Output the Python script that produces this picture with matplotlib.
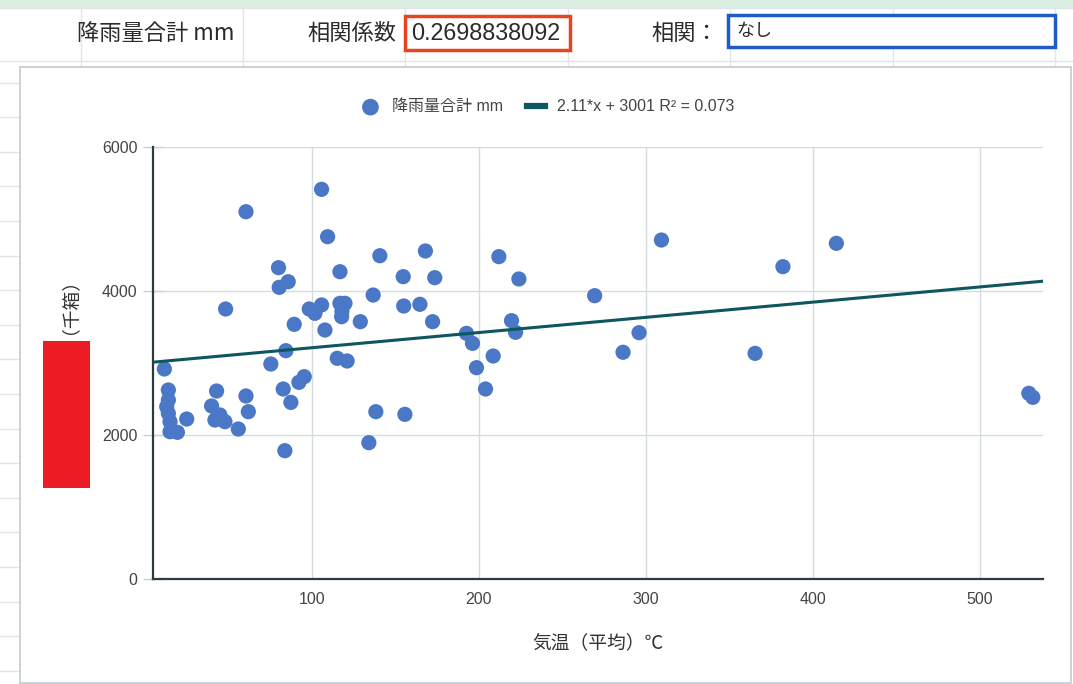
import matplotlib
matplotlib.use("Agg")
import matplotlib.pyplot as plt
from matplotlib.patches import Rectangle
from matplotlib.lines import Line2D

plt.rcParams['font.family'] = ['Noto Sans CJK JP', 'DejaVu Sans']

# 月ごとの気温（平均）と降雨量合計
temp_avg = [105.8, 60.5, 109.4, 80.0, 116.8, 85.8, 80.4, 48.3, 98.4, 105.8,
            101.8, 116.8, 119.8, 117.8, 129.0, 89.4, 107.8, 84.4, 115.2, 121.1,
            75.4, 11.6, 95.4, 92.2, 14.0, 42.9, 82.8, 60.5, 14.0, 87.4,
            13.0, 39.9, 61.9, 14.0, 44.9, 25.0, 41.9, 47.9, 15.0, 55.9,
            15.0, 19.4, 83.8, 140.7, 168.0, 154.7, 173.6, 212.0, 224.0, 309.4,
            136.7, 269.4, 155.0, 164.7, 172.3, 192.6, 196.2, 219.6, 222.0, 296.0,
            286.4, 208.6, 198.6, 204.0, 138.3, 155.7, 134.1, 382.2, 414.2, 365.5,
            529.5, 531.9, 118.0]
rain_total = [5412, 5101, 4754, 4324, 4268, 4129, 4051, 3750, 3750, 3806,
              3690, 3829, 3829, 3643, 3574, 3537, 3458, 3171, 3065, 3028,
              2986, 2917, 2810, 2731, 2625, 2611, 2639, 2542, 2486, 2453,
              2393, 2403, 2324, 2301, 2278, 2222, 2208, 2185, 2185, 2083,
              2046, 2037, 1782, 4490, 4556, 4199, 4185, 4477, 4167, 4708,
              3944, 3935, 3792, 3815, 3574, 3412, 3273, 3588, 3426, 3421,
              3149, 3097, 2935, 2639, 2324, 2287, 1893, 4338, 4662, 3134,
              2579, 2523, 3720]

# 近似直線
slope = 2.11
intercept = 3001
r2 = 0.073
corr_coef = "0.2698838092"
corr_result = "なし"

x_ticks = [100, 200, 300, 400, 500]
y_ticks = [0, 2000, 4000, 6000]

W, H = 1073, 684
fig = plt.figure(figsize=(W / 100, H / 100), dpi=100)
fig.patch.set_facecolor('white')

latin = ['Liberation Sans', 'Noto Sans CJK JP', 'DejaVu Sans']


def fx(x):
    return x / W


def fy(y):
    return 1 - y / H


def hline(y, x0, x1, color='#dfe5ea', lw=1.0):
    fig.add_artist(Line2D([fx(x0), fx(x1)], [fy(y), fy(y)], color=color, lw=lw,
                          transform=fig.transFigure, zorder=1))


def vline(x, y0, y1, color='#dfe5ea', lw=1.0):
    fig.add_artist(Line2D([fx(x), fx(x)], [fy(y0), fy(y1)], color=color, lw=lw,
                          transform=fig.transFigure, zorder=1))


# シートの枠線
fig.add_artist(Rectangle((0, fy(8)), 1, 8 / H, transform=fig.transFigure,
                         facecolor='#dcefe3', edgecolor='none', zorder=1))
hline(8, 0, W)
hline(61, 0, W)
for cx in [81, 243, 405, 568, 730, 893, 1055]:
    vline(cx, 8, 67)
for k in range(-2, 16):
    yy = 151.7 + 34.6 * k
    if 67 < yy < H:
        hline(yy, 0, 20)

# 見出し行
hdr = dict(fontsize=16, color='#2b2b2b', va='center', zorder=4)
fig.text(fx(156), fy(33), "降雨量合計 mm", ha='center', **hdr)
fig.text(fx(352), fy(33), "相関係数", ha='center', **hdr)
fig.add_artist(Rectangle((fx(405), fy(50)), 165 / W, 34 / H, transform=fig.transFigure,
                         facecolor='white', edgecolor='#e8441f', lw=2.5, zorder=3))
fig.text(fx(411), fy(33), corr_coef, ha='left', fontsize=16.8,
         family=latin, color='#2b2b2b', va='center', zorder=4)
fig.text(fx(685), fy(33), "相関：", ha='center', **hdr)
fig.add_artist(Rectangle((fx(728), fy(47)), 327 / W, 32 / H, transform=fig.transFigure,
                         facecolor='white', edgecolor='#1f5bc4', lw=2.5, zorder=3))
fig.text(fx(736), fy(31), corr_result, ha='left', fontsize=13, color='#2b2b2b',
         va='center', zorder=4)

# グラフ領域
fig.add_artist(Rectangle((fx(20), fy(683)), (1071 - 20) / W, (683 - 67) / H,
                         transform=fig.transFigure, facecolor='white',
                         edgecolor='#c5cacf', lw=1.2, zorder=2))

ax = fig.add_axes([fx(153), fy(579), (1043 - 153) / W, (579 - 147) / H])
ax.set_zorder(5)
ax.set_facecolor('none')
ax.set_xlim(4.8, 538)
ax.set_ylim(0, 6000)

ax.scatter(temp_avg, rain_total, s=120, color='#4a77c6', edgecolors='none',
           zorder=3, label="降雨量合計 mm")
xl = ax.get_xlim()
ax.plot(xl, [intercept + slope * v for v in xl], color='#0e5660', lw=2.2, zorder=4,
        label=f"{slope}*x + {intercept} R² = {r2}")

ax.set_xticks(x_ticks)
ax.set_yticks(y_ticks)
ax.set_axisbelow(True)
ax.grid(True, color='#d3dce0', lw=1.0)
for s in ['top', 'right']:
    ax.spines[s].set_visible(False)
for s in ['left', 'bottom']:
    ax.spines[s].set_color('#2d3b40')
    ax.spines[s].set_linewidth(1.6)
ax.tick_params(axis='x', length=0, pad=9)
ax.tick_params(axis='y', direction='inout', length=14, width=1, color='#c9d1d5', pad=4)
for lab in ax.get_xticklabels() + ax.get_yticklabels():
    lab.set_fontfamily(latin)
    lab.set_fontsize(11.5)
    lab.set_color('#444444')

ax.set_xlabel("気温（平均）℃", fontsize=13.5, color='#333333')
ax.xaxis.set_label_coords(0.5, -0.148)
ax.xaxis.label.set_va('center')

leg = ax.legend(loc='center', bbox_to_anchor=(0.444, 1.093), ncol=2, frameon=False,
                prop={'family': latin, 'size': 11.5}, handlelength=1.1,
                handletextpad=0.8, columnspacing=1.5, markerscale=1.1)
for t in leg.get_texts():
    t.set_color('#444444')
for h in leg.legend_handles:
    if isinstance(h, Line2D):
        h.set_linewidth(4.5)

# 縦軸タイトル
fig.text(fx(60), fy(297), "（千箱）", rotation=90, ha='center', va='center',
         fontsize=13.5, color='#333333', zorder=4)
fig.add_artist(Rectangle((fx(43), fy(488)), 47 / W, 147 / H, transform=fig.transFigure,
                         facecolor='#ec1c24', edgecolor='none', zorder=4))

fig.savefig("out.png", dpi=100)
